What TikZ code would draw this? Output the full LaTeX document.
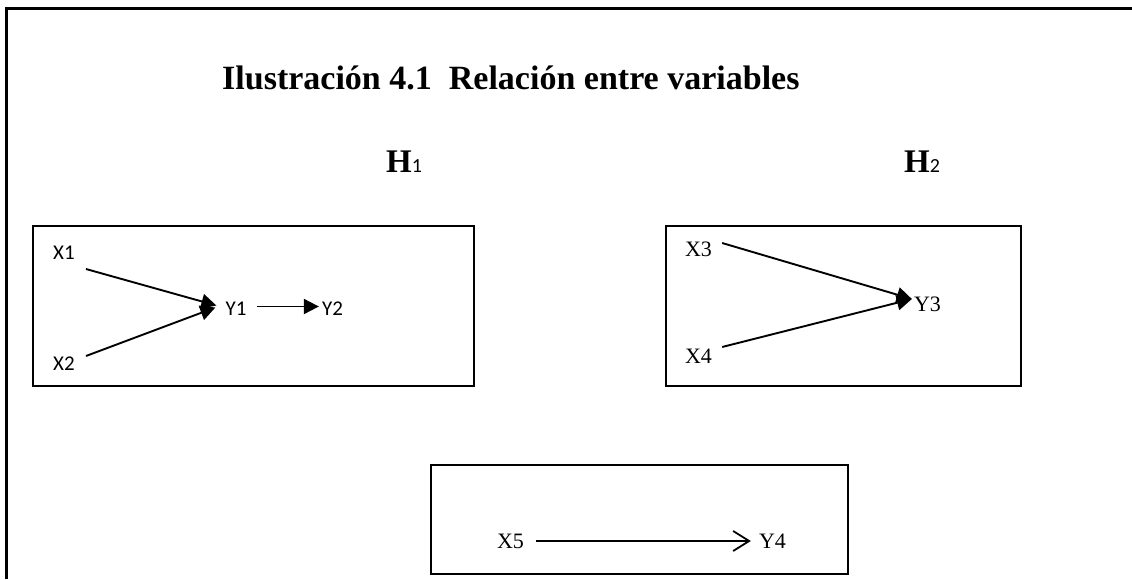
\documentclass[tikz,border=0pt]{standalone}
\usepackage{fontspec}
\setmainfont{Liberation Serif}
\newfontfamily\carlito{Carlito}
\usetikzlibrary{arrows.meta}
\begin{document}
\begin{tikzpicture}[x=1pt,y=-1pt,
  outerframe/.style={line width=2.8pt},
  panel/.style={draw, line width=1.8pt, inner sep=0pt, anchor=north west},
  sanslbl/.style={inner sep=0pt, font=\carlito\fontsize{21}{25}\selectfont},
  seriflbl/.style={inner sep=0pt, font=\fontsize{22}{26}\selectfont},
  headlbl/.style={inner sep=0pt, anchor=base west},
  solidarrow/.style={line width=1.9pt, -{Triangle[length=15pt,width=15pt]}},
  openarrow/.style={line width=1.8pt, -{Straight Barb[length=16pt,width=20pt]}},
]
\useasboundingbox (0,0) rectangle (1132,579);
\draw[outerframe] (6.5,579) -- (6.5,8.5) -- (1132,8.5);

% title and headings
\node[headlbl, font=\bfseries\fontsize{34}{40}\selectfont] (title) at (222,89) {Ilustración 4.1\ \ Relación entre variables};
\node[headlbl] (h1) at (386,172) {\fontsize{33}{40}\selectfont\bfseries H\carlito\mdseries\fontsize{20}{24}\selectfont 1};
\node[headlbl] (h2) at (904,172) {\fontsize{33}{40}\selectfont\bfseries H\carlito\mdseries\fontsize{20}{24}\selectfont 2};

% boxes
\node[panel, minimum width=441pt, minimum height=160pt] (box1) at (32,225) {};
\node[panel, minimum width=355pt, minimum height=160pt] (box2) at (665,225) {};
\node[panel, minimum width=417pt, minimum height=109pt] (box3) at (430,464) {};

% H1 content
\node[sanslbl] (x1) at (64,252.5) {X1};
\node[sanslbl] (x2) at (64,363.5) {X2};
\node[sanslbl] (y1) at (236,308.5) {Y1};
\node[sanslbl] (y2) at (332.5,308.5) {Y2};
\draw[solidarrow] ([shift={(11,16.5)}]x1.east) -- ([shift={(-9,-3)}]y1.west);
\draw[solidarrow] ([shift={(11,-7.5)}]x2.east) -- ([shift={(-10,-1)}]y1.west);
\draw[solidarrow] ([shift={(10,-2)}]y1.east) -- ([shift={(-3,-2)}]y2.west);

% H2 content
\node[seriflbl] (x3) at (698.5,249.5) {X3};
\node[seriflbl] (x4) at (698.5,356) {X4};
\node[seriflbl] (y3) at (927.5,304) {Y3};
\draw[solidarrow] ([shift={(10,-6.5)}]x3.east) -- ([shift={(-2,-5)}]y3.west);
\draw[solidarrow] ([shift={(10,-9)}]x4.east) -- ([shift={(-2,-5)}]y3.west);

% bottom box content
\node[seriflbl] (x5) at (510.5,541) {X5};
\node[seriflbl] (y4) at (772.5,541) {Y4};
\draw[openarrow] ([xshift=12]x5.east) -- ([xshift=-8]y4.west);
\end{tikzpicture}
\end{document}
